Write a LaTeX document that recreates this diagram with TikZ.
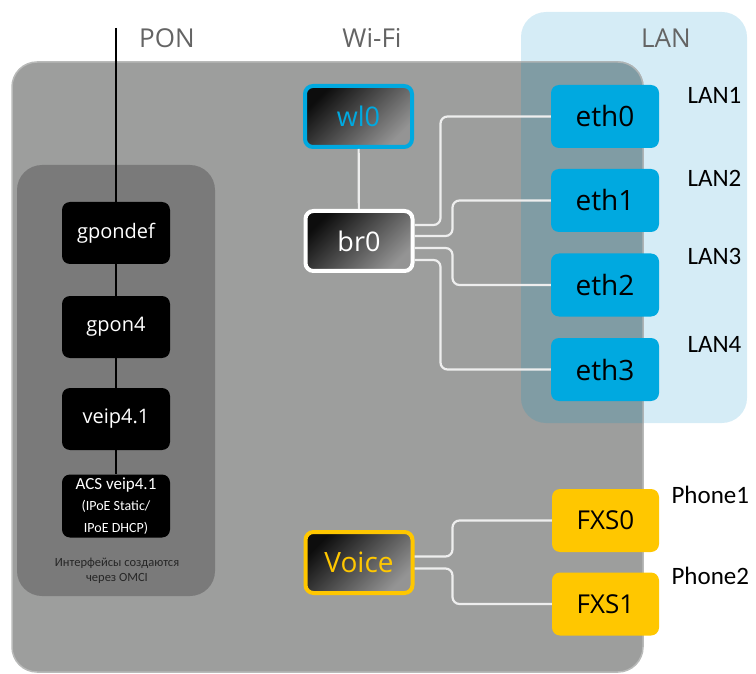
\documentclass[tikz,border=0pt]{standalone}
\usepackage{fontspec}
\setmainfont{Open Sans}
\newfontfamily\carlito{Carlito}

\definecolor{grundgrau}{RGB}{157,158,157}
\definecolor{randgrau}{RGB}{185,186,185}
\definecolor{pongrau}{RGB}{122,122,122}
\definecolor{lanhell}{RGB}{213,236,246}
\definecolor{lanmisch}{RGB}{128,156,164}
\definecolor{ethblau}{RGB}{0,169,224}
\definecolor{fxsgelb}{RGB}{255,199,0}
\definecolor{titelgrau}{RGB}{100,100,100}
\definecolor{drahtweiss}{RGB}{238,238,238}

\tikzset{
  ponbox/.style={fill=black, rounded corners=8pt, minimum width=108pt, minimum height=62pt, text=white, font=\fontsize{20}{22}\selectfont},
  verlauf/.style={draw=#1, line width=4pt, rounded corners=8pt, top color=black!95, bottom color=black!42, shading angle=45, minimum width=107pt, minimum height=61pt, inner sep=0pt},
  ethbox/.style={fill=ethblau, rounded corners=8pt, minimum width=108pt, minimum height=63pt, font=\fontsize{28}{30}\selectfont},
  fxsbox/.style={fill=fxsgelb, rounded corners=8pt, minimum width=107pt, minimum height=63pt, font=\fontsize{26}{28}\selectfont},
  titel/.style={text=titelgrau, font=\fontsize{26}{28}\selectfont},
  portname/.style={anchor=west, font=\carlito\fontsize{25}{27}\selectfont},
  draht/.style={draw=drahtweiss, line width=2.2pt, rounded corners=7pt},
}

\begin{document}
\begin{tikzpicture}[x=1pt, y=-1pt]
\useasboundingbox (0,0) rectangle (756,674);
    % Flaechen:
    \fill[lanhell] (521,12) [rounded corners=25pt] rectangle (747,423); % LAN-Feld
    \draw[fill=grundgrau, draw=randgrau, line width=1.5pt, rounded corners=25pt] (12,62) rectangle (643,672); % Geraet
    \begin{scope}
      \clip[rounded corners=25pt] (521,12) rectangle (747,423);
      \draw[fill=lanmisch, draw=randgrau!80!lanmisch, line width=1.5pt, rounded corners=25pt] (12,62) rectangle (643,672); % Ueberlappung
    \end{scope}
    \fill[pongrau, rounded corners=25pt] (17,165) rectangle (215,596); % OMCI-Feld
    % Ueberschriften:
    \node[titel] (pon) at (167,38) {PON};
    \node[titel] (wifi) at (372,38) {Wi-Fi};
    \node[titel] (lan) at (666,38) {LAN};
    % PON-Kette:
    \coordinate (ponin) at (116,28);
    \node[ponbox] (gpondef) at (116,233) {gpondef};
    \node[ponbox] (gpon4) at (116,327) {gpon4};
    \node[ponbox] (veip) at (116,419) {veip4.1};
    \node[ponbox, minimum height=63pt, align=center, inner sep=2pt] (acs) at (116,506)
      {\carlito\fontsize{17}{17}\selectfont ACS veip4.1\\[-1pt]
       \carlito\fontsize{14}{15}\selectfont (IPoE Static/\\ \carlito\fontsize{14}{15}\selectfont IPoE DHCP)};
    \node[align=center, text=black!85, font=\carlito\fontsize{12.5}{15.5}\selectfont] (omci) at (117,571)
      {Интерфейсы создаются\\через OMCI};
    \draw[black, line width=2pt] (ponin) -- (gpondef);
    \draw[black, line width=2pt] (gpondef) -- (gpon4);
    \draw[black, line width=2pt] (gpon4) -- (veip);
    \draw[black, line width=2pt] (veip) -- (acs);
    % Bruecke und WLAN:
    \node[verlauf=ethblau, text=ethblau, font=\fontsize{27}{29}\selectfont] (wl0) at (358.5,116.5) {wl0};
    \node[verlauf=white, text=white, minimum height=60pt, font=\fontsize{27}{29}\selectfont] (br0) at (359,241) {br0};
    \draw[draht] (wl0) -- (br0);
    % LAN-Ports:
    \node[ethbox] (eth0) at (605,116.5) {eth0};
    \node[ethbox] (eth1) at (605,200.5) {eth1};
    \node[ethbox] (eth2) at (605,285) {eth2};
    \node[ethbox] (eth3) at (605,369.5) {eth3};
    \draw[draht] ([yshift=16pt]br0.east) -- ++(26,0) |- (eth0.west);
    \draw[draht] ([yshift=5pt]br0.east) -- ++(38,0) |- (eth1.west);
    \draw[draht] ([yshift=-7pt]br0.east) -- ++(38,0) |- (eth2.west);
    \draw[draht] ([yshift=-19pt]br0.east) -- ++(26,0) |- (eth3.west);
    \node[portname] (lan1) at (684,95) {LAN1};
    \node[portname] (lan2) at (684,178) {LAN2};
    \node[portname] (lan3) at (684,256) {LAN3};
    \node[portname] (lan4) at (684,344) {LAN4};
    % Telefonie:
    \node[verlauf=fxsgelb, text=fxsgelb, font=\fontsize{28}{30}\selectfont] (voice) at (359,562.5) {Voice};
    \node[fxsbox] (fxs0) at (605.5,520.5) {FXS0};
    \node[fxsbox] (fxs1) at (605.5,604) {FXS1};
    \draw[draht] ([yshift=6pt]voice.east) -- ++(38,0) |- (fxs0.west);
    \draw[draht] ([yshift=-6pt]voice.east) -- ++(38,0) |- (fxs1.west);
    \node[portname] (phone1) at (668,495) {Phone1};
    \node[portname] (phone2) at (668,576) {Phone2};
\end{tikzpicture}
\end{document}
